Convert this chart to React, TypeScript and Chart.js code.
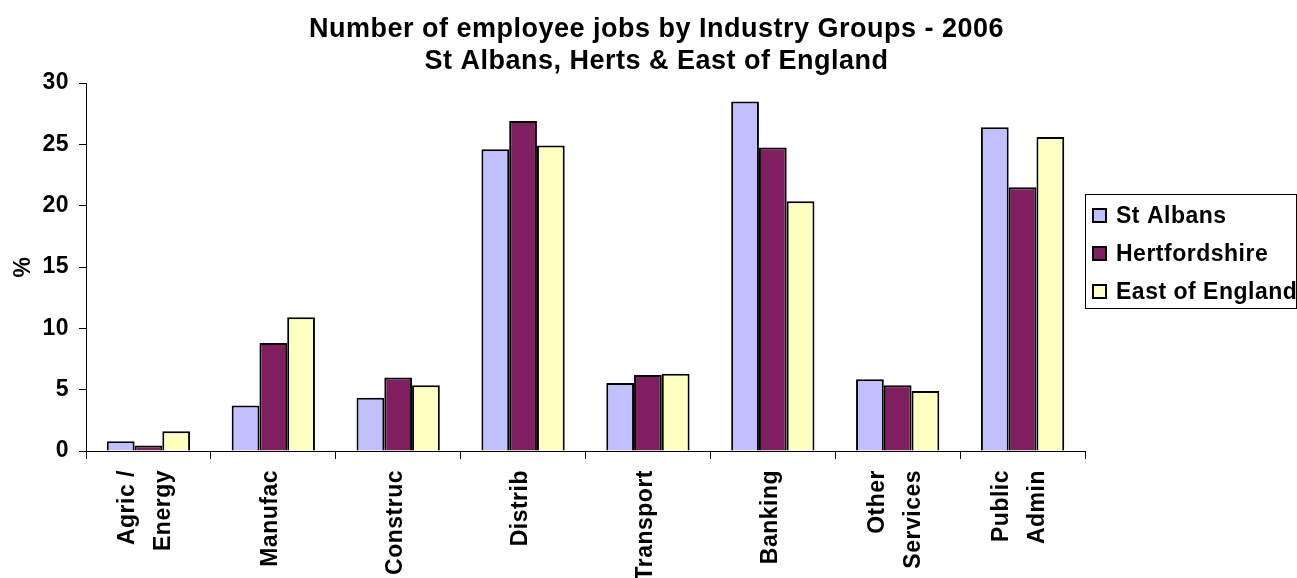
import React, { useEffect, useRef } from 'react';
import { Chart, registerables } from 'chart.js';

Chart.register(...registerables);

const titleLines = ['Number of employee jobs by Industry Groups - 2006', 'St Albans, Herts & East of England'];
const categories: (string | string[])[] = [
  ['Agric /', 'Energy'],
  'Manufac',
  'Construc',
  'Distrib',
  'Transport',
  'Banking',
  ['Other', 'Services'],
  ['Public', 'Admin'],
];
const seriesNames = ['St Albans', 'Hertfordshire', 'East of England'];
const stAlbans = [0.8, 3.7, 4.35, 24.6, 5.55, 28.5, 5.85, 26.4];
const hertfordshire = [0.45, 8.8, 6.0, 26.9, 6.2, 24.75, 5.35, 21.5];
const eastOfEngland = [1.6, 10.9, 5.35, 24.9, 6.3, 20.35, 4.9, 25.6];
const yAxisTitle = '%';
const yMin = 0;
const yMax = 30;
const yStep = 5;

const seriesColors = ['#C0C0FF', '#7F1F5F', '#FFFFC0'];
const FONT = '"Liberation Sans", Arial, sans-serif';

// Each label becomes evenly spaced lines so that two-line labels sit centred on the tick.
const tickLabels = categories.map((c) => (Array.isArray(c) ? [c[0], '', c[1]] : ['', c]));

const setSpacing = (chart: any) => {
  const c = chart.ctx as any;
  if (c && 'letterSpacing' in c) c.letterSpacing = '0.5px';
};

const spacingPlugin = {
  id: 'spacing',
  beforeInit: setSpacing,
  beforeUpdate: setSpacing,
  beforeLayout: setSpacing,
  beforeDraw: setSpacing,
  afterResize: setSpacing,
};

const boxLegendPlugin = {
  id: 'boxLegend',
  afterDraw(chart: any) {
    const area = chart.scales.yR;
    const ctx = chart.ctx;
    ctx.save();
    setSpacing(chart);
    const x = area.left;
    const top = chart.chartArea.top + 111;
    const w = area.width - 1;
    const h = 114;
    ctx.strokeStyle = '#000';
    ctx.lineWidth = 1;
    ctx.strokeRect(x + 0.5, top + 0.5, w, h);
    chart.data.datasets.forEach((ds: any, i: number) => {
      const cy = top + 21.5 + i * 38;
      ctx.fillStyle = ds.backgroundColor;
      ctx.fillRect(x + 8, cy - 6.5, 13, 13);
      ctx.lineWidth = 2;
      ctx.strokeStyle = '#000';
      ctx.strokeRect(x + 8, cy - 6.5, 13, 13);
      ctx.fillStyle = '#000';
      ctx.font = `bold 23px ${FONT}`;
      ctx.textBaseline = 'middle';
      ctx.textAlign = 'left';
      ctx.fillText(ds.label, x + 31, cy + 1);
    });
    ctx.restore();
  },
};

export default function App() {
  const ref = useRef<HTMLCanvasElement>(null);

  useEffect(() => {
    if (!ref.current) return;
    const seriesValues = [stAlbans, hertfordshire, eastOfEngland];
    const chart = new Chart(ref.current, {
      type: 'bar',
      data: {
        labels: tickLabels,
        datasets: seriesNames.map((name, i) => ({
          label: name,
          data: seriesValues[i],
          backgroundColor: seriesColors[i],
          borderColor: '#000',
          borderWidth: 2,
          categoryPercentage: 0.667,
          barPercentage: 1,
        })),
      },
      options: {
        animation: false,
        responsive: true,
        maintainAspectRatio: false,
        layout: { padding: { left: 16, right: 0, top: 0, bottom: 0 } },
        plugins: {
          legend: { display: false },
          tooltip: { enabled: false },
          title: {
            display: true,
            text: titleLines,
            color: '#000',
            font: { family: FONT, size: 27, weight: 'bold', lineHeight: 1.2 },
            padding: { top: 13.3, bottom: 4.9 },
          },
        },
        scales: {
          x: {
            type: 'category',
            offset: true,
            grid: { offset: true, drawOnChartArea: false, drawTicks: true, tickLength: 8, color: '#000' },
            border: { display: true, color: '#000', width: 1 },
            ticks: {
              minRotation: 90,
              maxRotation: 90,
              autoSkip: false,
              padding: 11,
              labelOffset: -20.5,
              color: '#000',
              font: { family: FONT, size: 23, weight: 'bold', lineHeight: '18px' },
            },
            afterFit: (s: any) => {
              s.height = 127;
            },
          },
          y: {
            min: yMin,
            max: yMax,
            ticks: {
              stepSize: yStep,
              padding: 10,
              color: '#000',
              font: { family: FONT, size: 23, weight: 'bold' },
            },
            grid: { drawOnChartArea: false, drawTicks: true, tickLength: 7, color: '#000' },
            border: { display: true, color: '#000', width: 1 },
            title: {
              display: true,
              text: yAxisTitle,
              color: '#000',
              font: { family: FONT, size: 23, weight: 'bold' },
              padding: { top: -6.5, bottom: 0 },
            },
            afterFit: (s: any) => {
              s.width = 70;
            },
          },
          yR: {
            type: 'linear',
            position: 'right',
            display: true,
            grid: { display: false },
            border: { display: false },
            ticks: { display: false },
            afterFit: (s: any) => {
              s.width = 212;
            },
          },
        },
      } as any,
      plugins: [spacingPlugin, boxLegendPlugin],
    });
    return () => chart.destroy();
  }, []);

  return (
    <div style={{ position: 'absolute', left: 0, top: 0, width: 1297, height: 578, background: '#fff' }}>
      <canvas ref={ref} />
    </div>
  );
}
